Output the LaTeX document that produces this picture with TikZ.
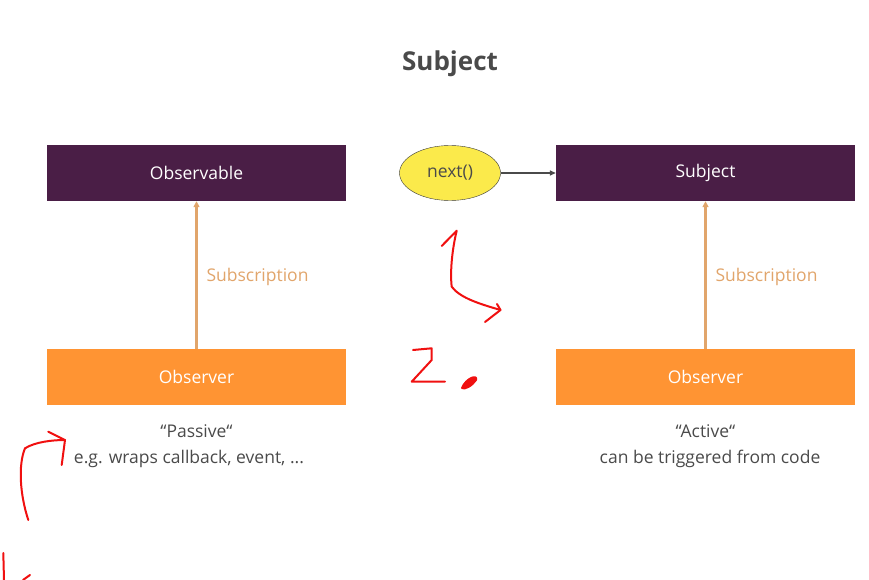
\documentclass[tikz,border=0pt]{standalone}
\usepackage{fontspec}
\setmainfont{Open Sans}
\usepackage{xcolor}
\usetikzlibrary{arrows.meta,positioning,shapes.geometric}
\definecolor{plum}{HTML}{4A1E46}
\definecolor{tangerine}{HTML}{FF9433}
\definecolor{sand}{HTML}{E1A56B}
\definecolor{lemon}{HTML}{FBEA4B}
\definecolor{ink}{HTML}{4A4A4A}
\definecolor{scribble}{HTML}{F01010}

\begin{document}
\begin{tikzpicture}[x=1pt,y=-1pt,font=\fontsize{17.5}{20}\selectfont,
    darkbox/.style={fill=plum,text=white,minimum width=299pt,minimum height=56pt,inner sep=0pt},
    orangebox/.style={fill=tangerine,text=white,minimum width=299pt,minimum height=56pt,inner sep=0pt},
    subarrow/.style={draw=sand,line width=2.2pt,-{Triangle[length=6pt,width=6pt]}},
    sublabel/.style={text=sand,anchor=west},
    caption/.style={text=ink,align=center},
    pen/.style={draw=scribble,line width=2pt,line cap=round,line join=round}]
    \useasboundingbox (0,0) rectangle (869,580);

    \node[font=\fontsize{26}{30}\selectfont\bfseries,text=ink] (title) at (450,64) {Subject};

    % left column
    \node[darkbox] (observable) at (196.5,173) {Observable};
    \node[orangebox] (observerA) at (196.5,377) {Observer};
    \draw[subarrow] (observerA.north) -- (observable.south);
    \node[sublabel] (subA) at (203,277) {Subscription};
    \node[caption] (passive) at (196.5,431) {“Passive“};
    \node[caption] (passivetxt) at (189,459) {e.g. wraps callback, event, ...};

    % right column
    \node[darkbox] (subject) at (705.5,173) {Subject};
    \node[orangebox] (observerB) at (705.5,377) {Observer};
    \draw[subarrow] (observerB.north) -- (subject.south);
    \node[sublabel] (subB) at (712,277) {Subscription};
    \node[caption] (active) at (705.5,431) {“Active“};
    \node[caption] (activetxt) at (710,459) {can be triggered from code};

    % next() call
    \node[ellipse,draw=ink!80!black,thin,fill=lemon,minimum width=101pt,minimum height=55pt,
          text=ink,inner sep=0pt] (next) at (450,173) {next()};
    \draw[ink,line width=1.3pt,-{Triangle[length=6pt,width=5pt]}] (next) -- (subject);

    % handwritten notes
    \draw[pen] (441.7,246) -- (456.7,230.7) .. controls (452,250) and (450,272) .. (451.7,286.7)
       .. controls (460,298) and (480,304) .. (500.5,310);
    \draw[pen] (497,304) -- (500.5,310) -- (485,322);
    \draw[pen] (413,350) -- (431.7,348.3) -- (431.7,360) -- (411.7,381.7) -- (445,381.7);
    \draw[pen,fill=scribble] (462,388) .. controls (466,378) and (478,374) .. (476,380)
       .. controls (472,386) and (464,390) .. (462,388);
    \draw[pen] (28.3,520) .. controls (20,495) and (18,465) .. (25,448.3)
       .. controls (35,442) and (52,440) .. (65,440);
    \draw[pen] (48.3,431.7) -- (65,440) -- (61.7,465);
    \draw[pen] (3.3,553) -- (4,580);
    \draw[pen] (23,580) -- (30,575);
\end{tikzpicture}
\end{document}
